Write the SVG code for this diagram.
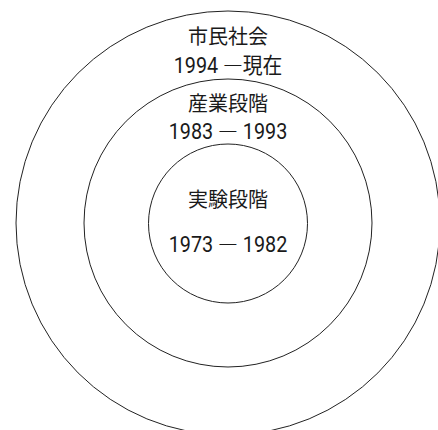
<svg xmlns="http://www.w3.org/2000/svg" width="438" height="430" viewBox="0 0 438 430">
  <style>
    .ring { fill: none; stroke: #222; stroke-width: 1; }
    .lbl { font-family: "Noto Sans CJK JP", "Noto Sans", sans-serif; font-size: 20px; fill: #1a1a1a; text-anchor: middle; }
    .num { font-family: Roboto, "Noto Sans CJK JP", sans-serif; font-size: 22px; fill: #1a1a1a; text-anchor: middle; }
    .dash { font-family: "Noto Sans CJK JP", sans-serif; }
  </style>
  <rect x="0" y="0" width="438" height="430" fill="#fff"/>
  <g id="outer">
    <circle class="ring" cx="228" cy="223" r="212"/>
    <text class="lbl" x="228" y="43.5">市民社会</text>
    <text class="num" transform="translate(228,73) scale(0.9,1)">1994 <tspan class="dash">―</tspan>現在</text>
  </g>
  <g id="middle">
    <circle class="ring" cx="228" cy="223" r="144"/>
    <text class="lbl" x="228" y="110.5">産業段階</text>
    <text class="num" transform="translate(228,139) scale(0.9,1)">1983 <tspan class="dash">―</tspan> 1993</text>
  </g>
  <g id="inner">
    <circle class="ring" cx="228" cy="223.5" r="79.5"/>
    <text class="lbl" x="228" y="207">実験段階</text>
    <text class="num" transform="translate(228,252) scale(0.9,1)">1973 <tspan class="dash">―</tspan> 1982</text>
  </g>
  <g id="connectors"></g>
</svg>
